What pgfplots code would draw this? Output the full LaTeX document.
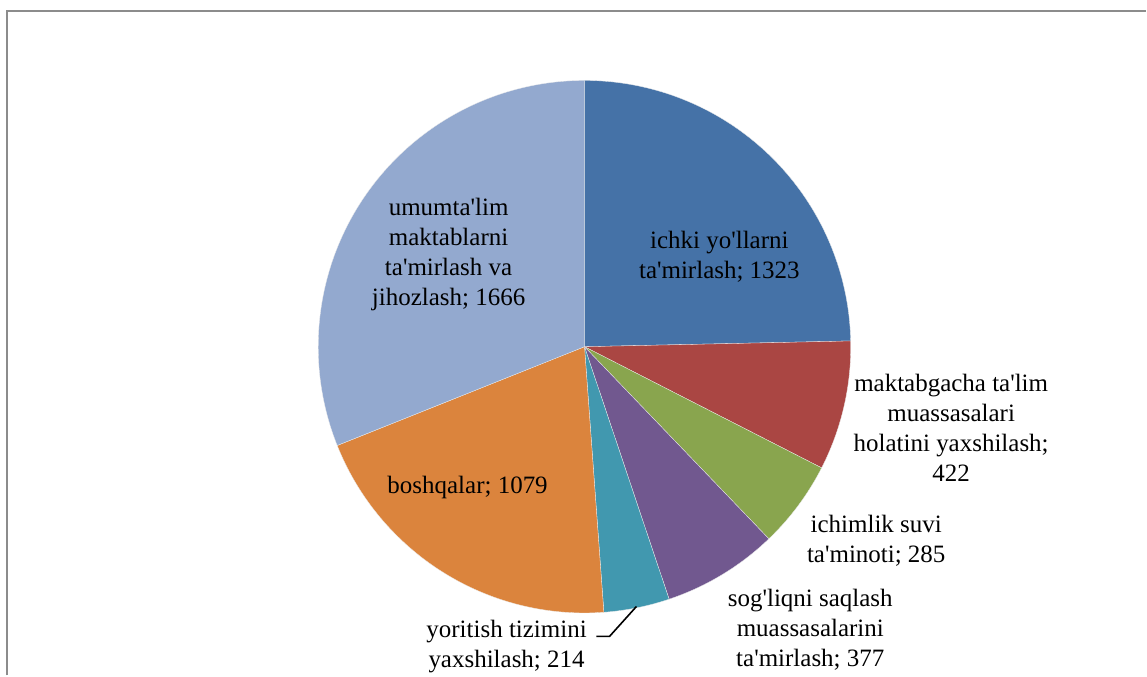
\documentclass[border=0pt]{standalone}
\usepackage{pgfplots}
\pgfplotsset{compat=1.18}
\usepackage{fontspec}
\setmainfont{Liberation Serif}[Ligatures=TeXOff]
\definecolor{cA}{HTML}{4572A7}
\definecolor{cB}{HTML}{AA4643}
\definecolor{cC}{HTML}{89A54E}
\definecolor{cD}{HTML}{71588F}
\definecolor{cE}{HTML}{4198AF}
\definecolor{cF}{HTML}{DB843D}
\definecolor{cG}{HTML}{93A9CF}
\definecolor{frame}{HTML}{8C8C8C}
\tikzset{lbl/.style={font=\fontsize{12.5}{15}\selectfont, align=center, text=black, inner sep=0pt},
  slice/.style={draw=white!85!gray, line width=0.15pt}}
% values (clockwise from 12 o'clock)
\def\vA{1323}\def\vB{422}\def\vC{285}\def\vD{377}\def\vE{214}\def\vF{1079}\def\vG{1666}
\pgfmathsetmacro{\tot}{\vA+\vB+\vC+\vD+\vE+\vF+\vG}
\pgfmathsetmacro{\aO}{90}
\pgfmathsetmacro{\aA}{\aO-360*(\vA/\tot)}
\pgfmathsetmacro{\aB}{\aA-360*(\vB/\tot)}
\pgfmathsetmacro{\aC}{\aB-360*(\vC/\tot)}
\pgfmathsetmacro{\aD}{\aC-360*(\vD/\tot)}
\pgfmathsetmacro{\aE}{\aD-360*(\vE/\tot)}
\pgfmathsetmacro{\aF}{\aE-360*(\vF/\tot)}
\pgfmathsetmacro{\aG}{\aF-360*(\vG/\tot)}
\def\cx{585}\def\cy{329}\def\rr{266.5}
\begin{document}
\begin{tikzpicture}
\begin{axis}[
  width=573.5pt, height=338pt, scale only axis,
  xmin=0, xmax=1147, ymin=0, ymax=676,
  hide axis, clip=false,
]
\path (axis cs:0,0) rectangle (axis cs:1147,676);
\addplot[fill=cA, slice, domain=\aA:\aO, samples=80, variable=\t] ({\cx+\rr*cos(\t)},{\cy+\rr*sin(\t)}) -- (axis cs:\cx,\cy) -- cycle;
\addplot[fill=cB, slice, domain=\aB:\aA, samples=40, variable=\t] ({\cx+\rr*cos(\t)},{\cy+\rr*sin(\t)}) -- (axis cs:\cx,\cy) -- cycle;
\addplot[fill=cC, slice, domain=\aC:\aB, samples=40, variable=\t] ({\cx+\rr*cos(\t)},{\cy+\rr*sin(\t)}) -- (axis cs:\cx,\cy) -- cycle;
\addplot[fill=cD, slice, domain=\aD:\aC, samples=40, variable=\t] ({\cx+\rr*cos(\t)},{\cy+\rr*sin(\t)}) -- (axis cs:\cx,\cy) -- cycle;
\addplot[fill=cE, slice, domain=\aE:\aD, samples=30, variable=\t] ({\cx+\rr*cos(\t)},{\cy+\rr*sin(\t)}) -- (axis cs:\cx,\cy) -- cycle;
\addplot[fill=cF, slice, domain=\aF:\aE, samples=80, variable=\t] ({\cx+\rr*cos(\t)},{\cy+\rr*sin(\t)}) -- (axis cs:\cx,\cy) -- cycle;
\addplot[fill=cG, slice, domain=\aG:\aF, samples=100, variable=\t] ({\cx+\rr*cos(\t)},{\cy+\rr*sin(\t)}) -- (axis cs:\cx,\cy) -- cycle;
% frame
\draw[frame, line width=1pt] (axis cs:7.5,0) -- (axis cs:7.5,665) -- (axis cs:1147,665);
% leader line
\draw[black, line width=0.8pt] (axis cs:597,39) -- (axis cs:610,39) -- (axis cs:637,69);
% labels
\node[lbl] at (axis cs:720,419) {ichki yo'llarni\\ta'mirlash; 1323};
\node[lbl] at (axis cs:449,421) {umumta'lim\\maktablarni\\ta'mirlash va\\jihozlash; 1666};
\node[lbl] at (axis cs:952,248) {maktabgacha ta'lim\\muassasalari\\holatini yaxshilash;\\422};
\node[lbl] at (axis cs:877,135) {ichimlik suvi\\ta'minoti; 285};
\node[lbl] at (axis cs:811,46) {sog'liqni saqlash\\muassasalarini\\ta'mirlash; 377};
\node[lbl] at (axis cs:468,188) {boshqalar; 1079};
\node[lbl] at (axis cs:507,29) {yoritish tizimini\\yaxshilash; 214};
\end{axis}
\end{tikzpicture}
\end{document}
